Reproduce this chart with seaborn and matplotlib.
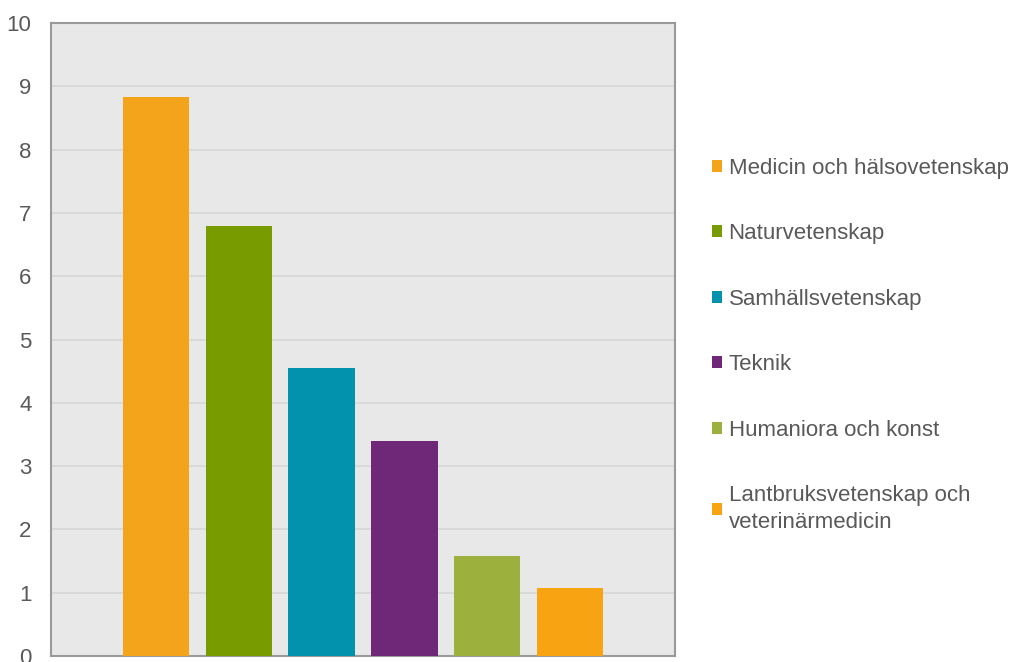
import numpy as np
import pandas as pd
import matplotlib
matplotlib.use("Agg")
import matplotlib.pyplot as plt
import seaborn as sns

# data
categories = [
    "Medicin och hälsovetenskap",
    "Naturvetenskap",
    "Samhällsvetenskap",
    "Teknik",
    "Humaniora och konst",
    "Lantbruksvetenskap och\nveterinärmedicin",
]
values = [8.83, 6.80, 4.55, 3.40, 1.58, 1.08]
colors = ["#F4A41A", "#789B00", "#0392AD", "#6F2878", "#9CB03E", "#F8A312"]
yticks = [0, 1, 2, 3, 4, 5, 6, 7, 8, 9, 10]

df = pd.DataFrame({"omrade": categories, "varde": values})

sns.set_style("white")
plt.rcParams["font.family"] = ["Liberation Sans", "DejaVu Sans"]

fig = plt.figure(figsize=(10.2, 6.62), dpi=100)
ax = fig.add_axes([0.05, 0.009, 0.6118, 0.956])
ax.set_facecolor("#E8E8E8")

sns.barplot(data=df, x="omrade", y="varde", hue="omrade",
            palette=colors, width=0.8, saturation=1, ax=ax,
            legend=True, zorder=3, linewidth=0)

ax.set_ylim(0, 10)
ax.set_xlim(-1.265, len(categories) - 1 + 1.265)
ax.set_yticks(yticks)
ax.set_yticklabels([str(t) for t in yticks], fontsize=16, color="#595959")
ax.tick_params(axis="y", length=0, pad=14)
ax.set_xticks([])
ax.set_xlabel("")
ax.set_ylabel("")
ax.yaxis.grid(True, color="#D6D6D6", linewidth=1.2, zorder=0)
ax.set_axisbelow(True)
for s in ax.spines.values():
    s.set_visible(True)
    s.set_color("#9A9A9A")
    s.set_linewidth(1.5)

handles, labels = ax.get_legend_handles_labels()
leg = ax.legend(handles, labels, loc="center left", bbox_to_anchor=(1.027, 0.491),
                frameon=False, fontsize=16, labelcolor="#595959",
                handlelength=0.45, handleheight=0.45, handletextpad=0.3,
                labelspacing=2.0)
for t in leg.get_texts():
    t.set_linespacing(1.35)

fig.savefig("out.png", dpi=100)
